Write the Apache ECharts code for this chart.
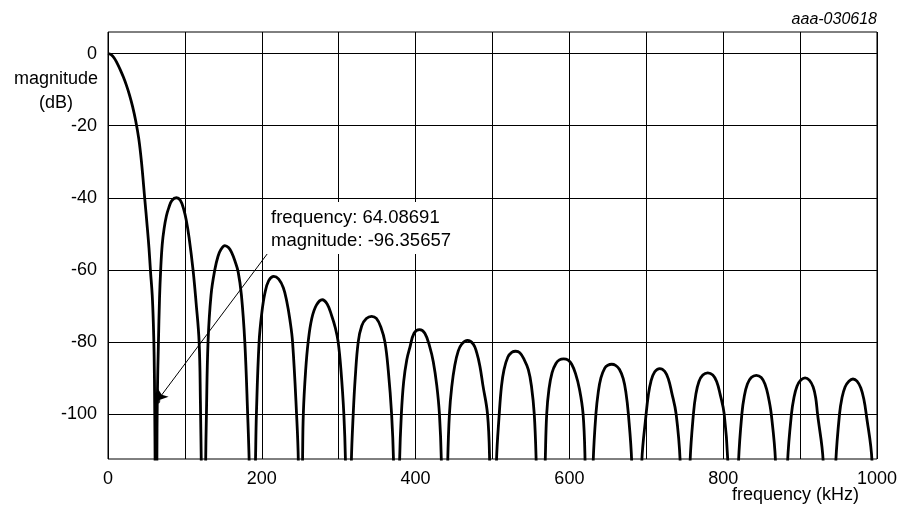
<!DOCTYPE html>
<html>
<head>
<meta charset="utf-8">
<script src="https://cdn.jsdelivr.net/npm/echarts@6/dist/echarts.min.js"></script>
<style>
  html, body { margin: 0; background: #fff; }
  #chart { width: 900px; height: 507px; }
</style>
</head>
<body>
<div id="chart"></div>
<script>
// tick labels
const xTicks = [0, 200, 400, 600, 800, 1000];
const yTicks = [0, -20, -40, -60, -80, -100];

// magnitude response, one array per lobe [kHz, dB]
const lobe0 = [[0, 0], [4, -0.3], [8, -1.2], [12, -2.7], [16, -4.5], [20, -6.5], [24, -8.8], [28, -11.5], [32, -14.7], [36, -18.6], [40, -23.6], [43.5, -30], [47.8, -40.3], [51, -48], [53.3, -54], [55.3, -60.5], [57.5, -67], [59, -75], [60, -84], [60.7, -97], [61.3, -115], [62.5, -160]];
const lobe1 = [[62.5, -160], [63.6, -112], [64.08691, -96.35657], [65.6, -80], [67, -68], [68.5, -60], [70.5, -53], [73, -48.5], [76, -45], [79, -42.8], [83, -40.8], [89, -40], [94, -40.7], [98.5, -43.2], [102, -46.5], [105.4, -51], [110.6, -60], [114.5, -69], [118.5, -80], [120.2, -97], [121.4, -115], [125, -160]];
const lobe2 = [[125, -160], [126.9, -115], [128, -100], [130.1, -80], [134, -67], [138.9, -60], [143, -56.3], [147, -54.3], [152, -53.3], [157, -53.9], [161, -55.3], [165, -57.5], [169.2, -60.5], [173.5, -67], [177.9, -80], [181.6, -100], [183.8, -115], [187.5, -160]];
const lobe3 = [[187.5, -160], [191.8, -113], [193, -100], [196.5, -80], [200, -72], [204, -66.5], [209, -63], [215.6, -61.8], [222, -62.6], [228, -65], [232.5, -68.8], [236.5, -73.8], [240, -80], [245.2, -100], [247.5, -113], [250, -160]];
const lobe4 = [[250, -160], [253, -113], [254, -100], [257, -88], [260.3, -80], [265, -73.5], [271, -69.8], [278.5, -68.3], [285, -69.5], [291, -72.8], [295.5, -76], [299.3, -80], [303, -88], [306.7, -100], [308.8, -113], [312.5, -160]];
const lobe5 = [[312.5, -160], [316.5, -113], [318.9, -100], [321.5, -90], [325.4, -80], [330, -75.5], [336, -73.5], [342.8, -72.9], [349, -73.5], [355, -76], [360.1, -80], [364.5, -88], [368.8, -100], [371.3, -113], [375, -160]];
const lobe6 = [[375, -160], [379.2, -113], [381.5, -100], [384.5, -91], [388.5, -85], [392.6, -81.5], [398, -77.6], [405, -76.6], [412, -77.6], [418.6, -81.5], [423, -85.5], [427.5, -92], [431, -100], [433.5, -113], [437.5, -160]];
const lobe7 = [[437.5, -160], [441.8, -113], [444, -100], [447, -92.5], [451, -86.5], [455.5, -82.5], [460, -80.6], [467.5, -79.6], [475, -80.6], [479.5, -83], [483.7, -86.8], [487.5, -92], [493.5, -100], [496.3, -113], [500, -160]];
const lobe8 = [[500, -160], [505.2, -113], [508.8, -100], [511.7, -92.3], [515, -87.7], [520, -84.2], [525, -82.9], [530.2, -82.6], [535.5, -83], [541, -84.8], [546.6, -87.7], [550.7, -92.3], [554.3, -100], [556.8, -113], [562.5, -160]];
const lobe9 = [[562.5, -160], [568.6, -113], [570.5, -100], [573.5, -93], [577.5, -88.5], [582.5, -86], [587, -85], [592.5, -84.7], [598, -85], [603, -86.2], [608, -88.8], [613, -93], [617.8, -100], [620.4, -113], [625, -160]];
const lobe10 = [[625, -160], [631, -113], [634.5, -100], [637.5, -94], [641, -90], [646, -87.3], [650, -86.5], [655, -86.2], [660, -86.5], [665, -87.6], [670, -90.2], [673.5, -94], [676.7, -100], [681, -113], [687.5, -160]];
const lobe11 = [[687.5, -160], [694.2, -113], [699.8, -100], [702.5, -95], [706, -91], [711, -88.3], [717.5, -87.4], [724, -88.2], [729, -90.5], [733, -94], [738.8, -100], [744, -113], [750, -160]];
const lobe12 = [[750, -160], [757, -113], [761.3, -100], [764.5, -94.5], [768.5, -91], [773.5, -89.2], [780, -88.6], [786.5, -89.2], [791.5, -91], [796, -94.5], [801.3, -100], [806, -113], [812.5, -160]];
const lobe13 = [[812.5, -160], [820, -113], [824.3, -100], [827.5, -95], [831.5, -91.7], [836.5, -89.9], [843, -89.3], [849.5, -89.9], [854.5, -91.8], [858.5, -95], [862.5, -100], [868, -113], [875, -160]];
const lobe14 = [[875, -160], [883.8, -113], [888.8, -100], [892, -95.5], [896, -92.3], [901, -90.6], [906.5, -90], [912, -90.6], [917, -92.5], [920.3, -95.5], [922.7, -100], [930, -113], [937.5, -160]];
const lobe15 = [[937.5, -160], [946.5, -113], [951.3, -100], [954.5, -95.5], [958.5, -92.5], [963.5, -90.9], [968.8, -90.3], [974, -90.9], [979, -92.8], [983, -96], [986, -100], [993.5, -113], [1000, -160]];

// marked point and the corner of its label box
const markedPoint = [64.08691, -96.35657];
const labelCorner = [210.5, -54.6];

const response = [].concat(lobe0, lobe1, lobe2, lobe3, lobe4, lobe5, lobe6, lobe7,
  lobe8, lobe9, lobe10, lobe11, lobe12, lobe13, lobe14, lobe15);

const FONT = '"Liberation Sans", Arial, sans-serif';

let myChart = echarts.init(document.getElementById('chart'));
myChart.setOption({
  animation: false,
  backgroundColor: '#fff',
  grid: {
    left: 108, right: 23, top: 32, bottom: 48,
    show: true, borderColor: '#000', borderWidth: 1
  },
  xAxis: {
    type: 'value',
    min: 0, max: 1000, interval: 100,
    axisLine: { show: false },
    axisTick: { show: false },
    axisLabel: {
      color: '#000', fontSize: 18, fontFamily: FONT, margin: 11,
      formatter: v => (xTicks.indexOf(v) >= 0 ? String(v) : '')
    },
    splitLine: { show: true, lineStyle: { color: '#000', width: 1 } }
  },
  yAxis: {
    type: 'value',
    min: -112.5, max: 6,
    axisLine: { show: false },
    axisTick: { show: false, customValues: yTicks },
    axisLabel: {
      customValues: yTicks,
      color: '#000', fontSize: 18, fontFamily: FONT, margin: 11
    },
    splitLine: { show: true, lineStyle: { color: '#000', width: 1 } }
  },
  series: [
    {
      type: 'line',
      data: response,
      showSymbol: false,
      smooth: 0.4,
      clip: true,
      lineStyle: { color: '#000', width: 2.8 },
      z: 3
    },
    {
      type: 'scatter',
      data: [markedPoint],
      symbol: 'circle',
      symbolSize: 6,
      itemStyle: { color: '#000' },
      z: 4,
      markLine: {
        silent: true,
        symbol: ['none', 'arrow'],
        symbolSize: 10,
        label: { show: false },
        lineStyle: { color: '#000', width: 1, type: 'solid' },
        data: [[{ coord: labelCorner }, { coord: markedPoint }]]
      }
    }
  ],
  graphic: [
    { type: 'rect', shape: { x: 265, y: 202, width: 195, height: 52 }, style: { fill: '#fff' }, z: 10 },
    { type: 'text', x: 271, y: 218, z: 11,
      style: { text: 'frequency: ' + markedPoint[0], font: '18.5px ' + FONT, fill: '#000', verticalAlign: 'middle' } },
    { type: 'text', x: 271, y: 240.5, z: 11,
      style: { text: 'magnitude: ' + markedPoint[1], font: '18.5px ' + FONT, fill: '#000', verticalAlign: 'middle' } },
    { type: 'text', x: 56, y: 79, z: 11,
      style: { text: 'magnitude', font: '18px ' + FONT, fill: '#000', align: 'center', verticalAlign: 'middle' } },
    { type: 'text', x: 56, y: 103, z: 11,
      style: { text: '(dB)', font: '18px ' + FONT, fill: '#000', align: 'center', verticalAlign: 'middle' } },
    { type: 'text', x: 877, y: 20, z: 11,
      style: { text: 'aaa-030618', font: 'italic 16px ' + FONT, fill: '#000', align: 'right', verticalAlign: 'middle' } },
    { type: 'text', x: 859, y: 495, z: 11,
      style: { text: 'frequency (kHz)', font: '18px ' + FONT, fill: '#000', align: 'right', verticalAlign: 'middle' } }
  ]
});
window.addEventListener('resize', function () {
  myChart.resize();
});
</script>
</body>
</html>
